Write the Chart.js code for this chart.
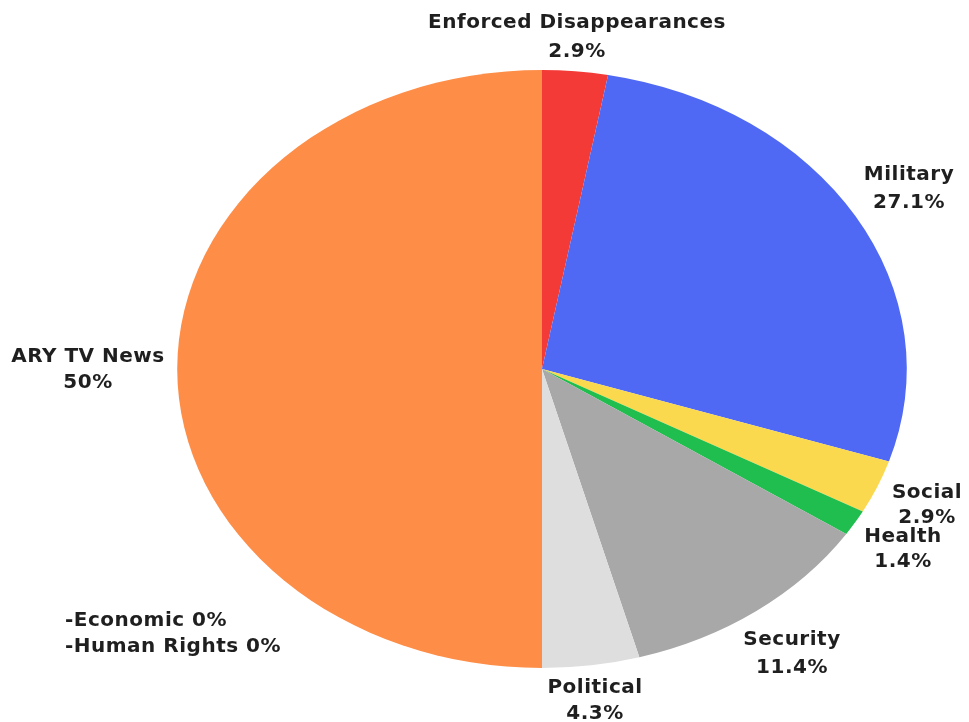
<!DOCTYPE html>
<html>
<head>
<meta charset="utf-8">
<script src="https://cdn.jsdelivr.net/npm/chart.js@4.4.1/dist/chart.umd.min.js"></script>
<style>
  html, body { margin: 0; padding: 0; background: #fff; }
  #wrap { width: 969px; height: 722px; }
</style>
</head>
<body>
<div id="wrap"><canvas id="pieChart" width="969" height="722"></canvas></div>
<script>
const categories = ['Enforced Disappearances', 'Military', 'Social', 'Health', 'Security', 'Political', 'ARY TV News'];
const shares = [2.9, 27.1, 2.9, 1.4, 11.4, 4.3, 50];
const sliceColors = ['#f43a36', '#5069f4', '#fbd94f', '#20bd4f', '#a8a8a8', '#dedede', '#fd8d47'];
const zeroCategories = ['Economic', 'Human Rights'];
const zeroShares = [0, 0];

// label anchors (text centre, first line)
const labelSpots = [
    { x: 577, y: 23, gap: 29 },
    { x: 909, y: 175, gap: 28 },
    { x: 927, y: 493, gap: 25 },
    { x: 903, y: 537, gap: 25 },
    { x: 792, y: 640, gap: 28 },
    { x: 595, y: 688, gap: 26 },
    { x: 88, y: 357, gap: 26 }
];

const FONT = 'bold 20px "DejaVu Sans", sans-serif';

// stretch the pie sideways into an ellipse like the source picture
const stretchPlugin = {
    id: 'stretch',
    beforeDatasetsDraw(chart) {
        const arc = chart.getDatasetMeta(0).data[0];
        const c = chart.ctx;
        c.save();
        c.translate(arc.x, arc.y);
        c.scale(1.22, 1);
        c.translate(-arc.x, -arc.y);
    },
    afterDatasetsDraw(chart) {
        chart.ctx.restore();
    }
};

const labelPlugin = {
    id: 'sliceLabels',
    afterDraw(chart) {
        const c = chart.ctx;
        c.save();
        c.font = FONT;
        c.letterSpacing = '0.5px';
        c.fillStyle = '#1f1f1f';
        c.textBaseline = 'middle';
        c.textAlign = 'center';
        categories.forEach((name, i) => {
            const p = labelSpots[i];
            c.fillText(name, p.x, p.y);
            c.fillText(shares[i] + '%', p.x, p.y + p.gap);
        });
        c.textAlign = 'left';
        zeroCategories.forEach((name, i) => {
            c.fillText('-' + name + ' ' + zeroShares[i] + '%', 65, 621 + i * 26);
        });
        c.restore();
    }
};

const ctx = document.getElementById('pieChart').getContext('2d');

new Chart(ctx, {
    type: 'pie',
    data: {
        labels: categories,
        datasets: [{
            data: shares,
            backgroundColor: sliceColors,
            borderWidth: 0
        }]
    },
    options: {
        responsive: false,
        animation: false,
        layout: { padding: { top: 70, bottom: 54, left: 142, right: 27 } },
        plugins: {
            legend: { display: false },
            tooltip: { enabled: false }
        }
    },
    plugins: [stretchPlugin, labelPlugin]
});
</script>
</body>
</html>
